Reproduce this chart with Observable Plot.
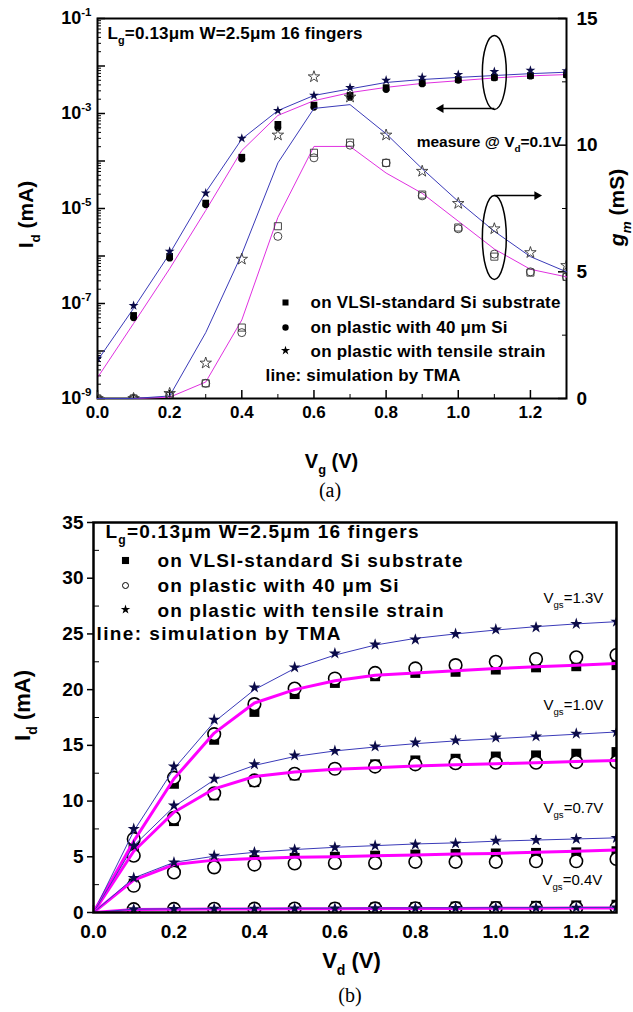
<!DOCTYPE html>
<html><head><meta charset="utf-8">
<script src="https://cdn.jsdelivr.net/npm/d3@7"></script>
<script src="https://cdn.jsdelivr.net/npm/@observablehq/plot@0.6"></script>
<style>
body{margin:0;background:#fff;}
#wrap{position:relative;width:633px;height:1012px;overflow:hidden;background:#fff;}
.layer{position:absolute;left:0;}
.cap{position:absolute;left:0;text-align:center;font-family:'Liberation Serif','Times New Roman',serif;font-size:20px;line-height:20px;}
</style></head><body>
<div id="wrap">
  <div class="layer" id="a1" style="top:0"></div>
  <div class="layer" id="a2" style="top:0"></div>
  <div class="cap" style="top:480px;width:660px">(a)</div>
  <div class="layer" id="b1" style="top:500px"></div>
  <div class="cap" style="top:985px;width:700px">(b)</div>
</div>
<script>
// ---------- Panel (a): Id–Vg (log) and gm–Vg, Vd = 0.1 V ----------
const vg = [0, 0.1, 0.2, 0.3, 0.4, 0.5, 0.6, 0.7, 0.8, 0.9, 1.0, 1.1, 1.2, 1.3];
const idSi      = [null, 5.6e-8, 9.8e-7, 1.3e-5, 1.2e-4, 5.9e-4, 1.5e-3, 2.4e-3, 3.5e-3, 4.5e-3, 5.2e-3, 5.8e-3, 6.3e-3, 6.6e-3];
const idPlastic = [null, 5.0e-8, 9.0e-7, 1.2e-5, 1.1e-4, 5.0e-4, 1.35e-3, 2.2e-3, 3.2e-3, 4.2e-3, 5.0e-3, 5.6e-3, 6.1e-3, 6.4e-3];
const idStrain  = [7e-9, 9e-8, 1.25e-6, 2.1e-5, 3.0e-4, 1.15e-3, 2.4e-3, 3.5e-3, 5.0e-3, 5.8e-3, 6.6e-3, 7.6e-3, 8.1e-3, 7.9e-3];
const simIdSi     = [2.75e-9, 3.8e-8, 5.4e-7, 9.1e-6, 1.66e-4, 9.1e-4, 1.86e-3, 2.75e-3, 3.55e-3, 4.3e-3, 4.9e-3, 5.6e-3, 6.2e-3, 6.6e-3];
const simIdStrain = [6.3e-9, 7.9e-8, 1.12e-6, 2.2e-5, 2.9e-4, 1.15e-3, 2.4e-3, 3.3e-3, 4.5e-3, 5.2e-3, 5.75e-3, 6.3e-3, 6.9e-3, 7.4e-3];
const gmSi      = [0, 0, 0.1, 0.6, 2.8, 6.8, 9.7, 10.1, 9.3, 8.05, 6.75, 5.6, 4.97, 4.8];
const gmPlastic = [0, 0, 0.1, 0.6, 2.6, 6.4, 9.5, 10.0, 9.3, 8.0, 6.7, 5.7, 5.0, 4.8];
const gmStrain  = [0, 0, 0.2, 1.4, 5.5, 10.4, 12.7, 11.9, 10.4, 8.97, 7.7, 6.7, 5.76, 5.25];
const simGmSi     = [0, 0, 0.05, 0.65, 3.1, 7.15, 9.95, 9.95, 8.9, 8.1, 7.0, 5.9, 5.1, 4.8];
const simGmStrain = [0, 0, 0.1, 2.6, 5.7, 9.3, 11.45, 11.6, 10.45, 9.07, 7.78, 6.6, 5.6, 5.0];
const vgTicks = [0, 0.2, 0.4, 0.6, 0.8, 1.0, 1.2];
const vgMinor = [0.1, 0.3, 0.5, 0.7, 0.9, 1.1];
const idMajor = [1e-9, 1e-8, 1e-7, 1e-6, 1e-5, 1e-4, 1e-3, 1e-2, 1e-1];
const idLabels = [1e-9, 1e-7, 1e-5, 1e-3, 1e-1];
const gmTicks = [0, 5, 10, 15];
const gmMinor = [2.5, 7.5, 12.5];

// ---------- Panel (b): Id–Vd ----------
const vd = [0, 0.1, 0.2, 0.3, 0.4, 0.5, 0.6, 0.7, 0.8, 0.9, 1.0, 1.1, 1.2, 1.3];
const vdMeas = [0.1, 0.2, 0.3, 0.4, 0.5, 0.6, 0.7, 0.8, 0.9, 1.0, 1.1, 1.2, 1.3];
// Vgs = 1.3 V
const sq13   = [6.0, 11.55, 15.5, 18.0, 19.6, 20.6, 21.2, 21.5, 21.6, 21.8, 22.0, 22.1, 22.2];
const circ13 = [6.6, 12.1, 16.0, 18.7, 20.1, 21.0, 21.5, 21.9, 22.2, 22.5, 22.75, 22.9, 23.1];
const star13 = [7.5, 13.1, 17.3, 20.2, 22.0, 23.25, 24.05, 24.5, 25.0, 25.4, 25.6, 25.9, 26.1];
const simP13 = [0, 6.4, 12.0, 16.1, 18.8, 20.0, 20.8, 21.3, 21.5, 21.7, 21.9, 22.05, 22.2, 22.35];
const simB13 = [0, 7.3, 12.9, 17.1, 20.0, 21.9, 23.1, 24.0, 24.6, 25.0, 25.35, 25.65, 25.9, 26.1];
// Vgs = 1.0 V
const sq10   = [5.6, 8.2, 10.5, 11.7, 12.3, 12.9, 13.3, 13.65, 13.8, 14.0, 14.1, 14.25, 14.4];
const circ10 = [5.1, 8.5, 10.7, 11.85, 12.45, 12.9, 13.1, 13.3, 13.4, 13.45, 13.45, 13.5, 13.5];
const star10 = [6.0, 9.6, 12.0, 13.3, 14.1, 14.5, 14.9, 15.25, 15.45, 15.7, 15.8, 16.05, 16.2];
const simP10 = [0, 5.5, 9.0, 11.1, 12.2, 12.6, 12.85, 13.0, 13.15, 13.25, 13.35, 13.45, 13.55, 13.65];
const simB10 = [0, 6.0, 9.5, 11.9, 13.2, 14.0, 14.5, 14.85, 15.15, 15.4, 15.6, 15.8, 16.0, 16.2];
// Vgs = 0.7 V
const sq07   = [2.6, 3.9, 4.4, 4.7, 4.9, 5.0, 5.1, 5.2, 5.25, 5.3, 5.35, 5.4, 5.5];
const circ07 = [2.4, 3.6, 4.05, 4.3, 4.4, 4.45, 4.45, 4.55, 4.55, 4.55, 4.6, 4.6, 4.8];
const star07 = [3.1, 4.5, 5.1, 5.4, 5.65, 5.85, 6.0, 6.1, 6.2, 6.45, 6.5, 6.6, 6.7];
const simP07 = [0, 2.9, 4.3, 4.7, 4.85, 4.95, 5.0, 5.1, 5.15, 5.25, 5.3, 5.4, 5.5, 5.6];
const simB07 = [0, 3.1, 4.5, 5.05, 5.4, 5.65, 5.85, 6.0, 6.15, 6.25, 6.4, 6.5, 6.6, 6.7];
// Vgs = 0.4 V
const sq04   = [0.3, 0.33, 0.35, 0.38, 0.4, 0.43, 0.46, 0.5, 0.53, 0.56, 0.6, 0.64, 0.7];
const circ04 = [0.3, 0.32, 0.33, 0.34, 0.35, 0.36, 0.37, 0.38, 0.39, 0.4, 0.41, 0.42, 0.43];
const star04 = [0.3, 0.32, 0.33, 0.35, 0.36, 0.37, 0.38, 0.39, 0.4, 0.42, 0.43, 0.44, 0.45];
const simP04 = [0, 0.27, 0.3, 0.31, 0.32, 0.33, 0.34, 0.35, 0.36, 0.37, 0.38, 0.39, 0.4, 0.41];
const simB04 = [0, 0.3, 0.33, 0.35, 0.37, 0.38, 0.39, 0.4, 0.41, 0.42, 0.43, 0.44, 0.45, 0.46];
const vdTicks = [0, 0.2, 0.4, 0.6, 0.8, 1.0, 1.2];
const vdMinor = [0.1, 0.3, 0.5, 0.7, 0.9, 1.1];
const idTicksB = [0, 5, 10, 15, 20, 25, 30, 35];
const idMinorB = [2.5, 7.5, 12.5, 17.5, 22.5, 27.5, 32.5];
const vgsLabels = ["1.3", "1.0", "0.7", "0.4"];

// ---------- styling ----------
const FONT = "'Liberation Sans', Arial, Helvetica, sans-serif";
const BLUE = "#3a3ab8", MAG = "#e030e0", MAGB = "#ff00ff", NAVY = "#0b0b48";
const W = 633;
const pts = (xs, ys) => ys.map((y, i) => ({x: xs[i], y})).filter(d => d.y != null);
const idMinor = idMajor.slice(0, -1).flatMap(m => [2, 3, 4, 5, 6, 7, 8, 9].map(k => k * m));

function noteMaker(m, offY = 0) {
  return (str, x, y, o = {}) => {
    const {fit, ...rest} = o;
    return Plot.text([str], {
      text: d => d, frameAnchor: "top-left", dx: x - m.l, dy: y - offY - m.t,
      textAnchor: "start", lineAnchor: "middle", fill: "black", fontWeight: "bold",
      ariaDescription: fit ? `fit${fit}` : "note", ...rest
    });
  };
}
function mkMaker(m, offY = 0) {
  return (x, y, o) => Plot.dot([0], {frameAnchor: "top-left", dx: x - m.l, dy: y - offY - m.t, ...o});
}
const ellipse = (rx, ry) => ({draw(c) {
  const k = 0.5523;
  c.moveTo(rx, 0);
  c.bezierCurveTo(rx, ry * k, rx * k, ry, 0, ry);
  c.bezierCurveTo(-rx * k, ry, -rx, ry * k, -rx, 0);
  c.bezierCurveTo(-rx, -ry * k, -rx * k, -ry, 0, -ry);
  c.bezierCurveTo(rx * k, -ry, rx, -ry * k, rx, 0);
  c.closePath();
}});

// rich text: _{sub} ^{sup} %{italic} &{italic sub}; fit widths from aria-description
function rich(root) {
  root.querySelectorAll("text").forEach(t => {
    const s = t.textContent;
    if (!/[_^%&]\{/.test(s)) return;
    const fs = parseFloat(getComputedStyle(t).fontSize) || 16;
    while (t.firstChild) t.removeChild(t.firstChild);
    const re = /([_^%&])\{([^}]*)\}/g;
    let last = 0, m, shift = 0;
    const add = (str, size, dy, ital) => {
      const ts = document.createElementNS("http://www.w3.org/2000/svg", "tspan");
      ts.textContent = str;
      if (size) ts.setAttribute("font-size", size);
      if (dy) ts.setAttribute("dy", dy);
      if (ital) ts.setAttribute("font-style", "italic");
      t.appendChild(ts);
    };
    while ((m = re.exec(s))) {
      if (m.index > last) { add(s.slice(last, m.index), null, -shift, false); shift = 0; }
      const code = m[1];
      if (code === "%") { add(m[2], null, -shift, true); shift = 0; }
      else {
        const d = (code === "_" || code === "&") ? 0.32 * fs : -0.45 * fs;
        add(m[2], 0.64 * fs, d - shift, code === "&");
        shift = d;
      }
      last = re.lastIndex;
    }
    if (last < s.length) add(s.slice(last), null, -shift, false);
  });
  root.querySelectorAll('g[aria-description^="fit"]').forEach(g => {
    const w = +g.getAttribute("aria-description").slice(3);
    g.querySelectorAll("text").forEach(t => {
      t.setAttribute("textLength", w);
      t.setAttribute("lengthAdjust", "spacing");
    });
  });
}

// ---------- Panel (a) layer 1: Id (log, left) ----------
const A = {h: 480, t: 18, b: 82, l: 97, r: 67};
const aw = W - A.l - A.r, ah = A.h - A.t - A.b;
const noteA = noteMaker(A), mkA = mkMaker(A);

const plotA1 = Plot.plot({
  width: W, height: A.h, marginTop: A.t, marginBottom: A.b, marginLeft: A.l, marginRight: A.r,
  style: {fontFamily: FONT, background: "transparent", overflow: "visible"},
  x: {domain: [0, 1.3], label: null},
  y: {type: "log", domain: [1e-9, 1e-1], label: null},
  marks: [
    Plot.tickY(idMinor, {y: d => d, insetRight: aw - 4, stroke: "black"}),
    Plot.tickY(idMajor, {y: d => d, insetRight: aw - 8, stroke: "black", strokeWidth: 1.5}),
    Plot.tickX(vgMinor, {x: d => d, insetTop: ah - 4, stroke: "black"}),
    Plot.tickX(vgTicks, {x: d => d, insetTop: ah - 8, stroke: "black", strokeWidth: 1.5}),
    Plot.axisY(idLabels, {tickSize: 0, tickPadding: 6, tickFormat: d => `10^{${Math.round(Math.log10(d))}}`, fontSize: 18, fontWeight: "bold", label: null}),
    Plot.axisX(vgTicks, {tickSize: 0, tickPadding: 7, tickFormat: d3.format(".1f"), fontSize: 17, fontWeight: "bold", label: null}),
    Plot.line(pts(vg, simIdSi), {x: "x", y: "y", stroke: MAG, strokeWidth: 1}),
    Plot.line(pts(vg, simIdStrain), {x: "x", y: "y", stroke: BLUE, strokeWidth: 1}),
    Plot.dot(pts(vg, idSi), {x: "x", y: "y", symbol: "square", fill: "black", r: 3.8, clip: true}),
    Plot.dot(pts(vg, idPlastic), {x: "x", y: "y", symbol: "circle", fill: "black", r: 3.4, clip: true}),
    Plot.dot(pts(vg, idStrain), {x: "x", y: "y", symbol: "star", fill: NAVY, r: 3.1, clip: true}),
    Plot.frame({stroke: "black", strokeWidth: 2}),
    noteA("L_{g}=0.13μm W=2.5μm 16 fingers", 107, 33, {fontSize: 17, fit: 255}),
    noteA("measure @ V_{d}=0.1V", 561, 142, {fontSize: 15.5, textAnchor: "end"}),
    mkA(285, 302, {symbol: "square", fill: "black", r: 3.4}),
    mkA(285, 327, {symbol: "circle", fill: "black", r: 3.2}),
    mkA(285, 350, {symbol: "star", fill: "black", r: 2.9}),
    noteA("on VLSI-standard Si substrate", 310, 302, {fontSize: 17, fit: 250}),
    noteA("on plastic with 40 μm Si", 310, 327, {fontSize: 17, fit: 197}),
    noteA("on plastic with tensile strain", 310, 351, {fontSize: 17, fit: 235}),
    noteA("line: simulation by TMA", 265, 375, {fontSize: 17, fit: 195}),
    noteA("V_{g} (V)", 331, 461, {fontSize: 20, textAnchor: "middle"}),
    noteA("I_{d} (mA)", 26, 214, {fontSize: 21, textAnchor: "middle", rotate: -90})
  ]
});
document.getElementById("a1").appendChild(plotA1);
rich(plotA1);

// ---------- Panel (a) layer 2: gm (linear, right) ----------
const plotA2 = Plot.plot({
  width: W, height: A.h, marginTop: A.t, marginBottom: A.b, marginLeft: A.l, marginRight: A.r,
  style: {fontFamily: FONT, background: "transparent", overflow: "visible"},
  x: {domain: [0, 1.3], axis: null},
  y: {domain: [0, 15], label: null},
  marks: [
    Plot.tickY(gmMinor, {y: d => d, insetLeft: aw - 4, stroke: "black"}),
    Plot.tickY(gmTicks, {y: d => d, insetLeft: aw - 8, stroke: "black", strokeWidth: 1.5}),
    Plot.axisY(gmTicks, {anchor: "right", tickSize: 0, tickPadding: 10, fontSize: 19, fontWeight: "bold", label: null}),
    Plot.line(pts(vg, simGmSi), {x: "x", y: "y", stroke: MAG, strokeWidth: 1}),
    Plot.line(pts(vg, simGmStrain), {x: "x", y: "y", stroke: BLUE, strokeWidth: 1}),
    Plot.dot(pts(vg, gmSi), {x: "x", y: "y", symbol: "square", fill: "none", stroke: "#333", strokeWidth: 0.9, r: 4, clip: true}),
    Plot.dot(pts(vg, gmPlastic), {x: "x", y: "y", symbol: "circle", fill: "none", stroke: "#333", strokeWidth: 0.9, r: 4, clip: true}),
    Plot.dot(pts(vg, gmStrain), {x: "x", y: "y", symbol: "star", fill: "none", stroke: "#333", strokeWidth: 0.9, r: 3.6, clip: true}),
    // annotations: ellipses with arrows pointing to the relevant axis
    Plot.dot([{x: 1.1, y: 12.87}], {x: "x", y: "y", symbol: ellipse(12, 37), fill: "none", stroke: "black", strokeWidth: 1.5}),
    Plot.dot([{x: 1.1, y: 6.36}], {x: "x", y: "y", symbol: ellipse(12, 42), fill: "none", stroke: "black", strokeWidth: 1.5}),
    Plot.link([{x1: 1.1, y1: 11.45, x2: 0.955, y2: 11.45}], {x1: "x1", y1: "y1", x2: "x2", y2: "y2", stroke: "black", strokeWidth: 1.5}),
    Plot.dot([{x: 0.952, y: 11.45}], {x: "x", y: "y", symbol: "triangle", rotate: -90, r: 3.3, fill: "black"}),
    Plot.link([{x1: 1.1, y1: 8.01, x2: 1.215, y2: 8.01}], {x1: "x1", y1: "y1", x2: "x2", y2: "y2", stroke: "black", strokeWidth: 1.5}),
    Plot.dot([{x: 1.218, y: 8.01}], {x: "x", y: "y", symbol: "triangle", rotate: 90, r: 3.3, fill: "black"}),
    noteA("%{g}&{m} (mS)", 617, 207, {fontSize: 21, textAnchor: "middle", rotate: -90})
  ]
});
document.getElementById("a2").appendChild(plotA2);
rich(plotA2);

// ---------- Panel (b) ----------
const B = {top: 500, h: 480, t: 22, b: 68, l: 93, r: 17};
const bw = W - B.l - B.r, bh = B.h - B.t - B.b;
const noteB = noteMaker(B, B.top), mkB = mkMaker(B, B.top);
const groups = [
  {sq: sq13, circ: circ13, star: star13, p: simP13, b: simB13},
  {sq: sq10, circ: circ10, star: star10, p: simP10, b: simB10},
  {sq: sq07, circ: circ07, star: star07, p: simP07, b: simB07},
  {sq: sq04, circ: circ04, star: star04, p: simP04, b: simB04}
];
const marksB = [
  Plot.tickY(idMinorB, {y: d => d, insetRight: bw - 6, stroke: "black"}),
  Plot.tickX(vdMinor, {x: d => d, insetTop: bh - 4, stroke: "black"}),
  Plot.tickX(vdTicks, {x: d => d, insetTop: bh - 7, stroke: "black", strokeWidth: 1.5}),
  Plot.axisY(idTicksB, {tickSize: 6, tickPadding: 4, strokeWidth: 1.5, fontSize: 19, fontWeight: "bold", label: null}),
  Plot.axisX(vdTicks, {tickSize: 0, tickPadding: 12, tickFormat: d3.format(".1f"), fontSize: 19, fontWeight: "bold", label: null})
];
for (const g of groups) {
  marksB.push(
    Plot.dot(pts(vdMeas, g.sq), {x: "x", y: "y", symbol: "square", fill: "black", r: 5.6, clip: true}),
    Plot.dot(pts(vdMeas, g.circ), {x: "x", y: "y", symbol: "circle", fill: "white", stroke: "black", strokeWidth: 1.6, r: 6.3, clip: true})
  );
}
for (const g of groups) {
  marksB.push(
    Plot.line(pts(vd, g.p), {x: "x", y: "y", stroke: MAGB, strokeWidth: 3, clip: true}),
    Plot.line(pts(vd, g.b), {x: "x", y: "y", stroke: BLUE, strokeWidth: 1, clip: true})
  );
}
for (const g of groups) {
  marksB.push(Plot.dot(pts(vdMeas, g.star), {x: "x", y: "y", symbol: "star", fill: NAVY, r: 3.8, clip: true}));
}
const vgsY = [598, 705, 808, 880];
const vgsX = [543, 543, 543, 542];
marksB.push(
  Plot.frame({stroke: "black", strokeWidth: 2.5}),
  noteB("L_{g}=0.13μm W=2.5μm 16 fingers", 105, 531, {fontSize: 19, fit: 313}),
  mkB(125, 560, {symbol: "square", fill: "black", r: 4}),
  mkB(125, 585, {symbol: "circle", fill: "white", stroke: "black", strokeWidth: 1, r: 3}),
  mkB(125, 609, {symbol: "star", fill: "black", r: 3}),
  noteB("on VLSI-standard Si substrate", 157, 560, {fontSize: 19, fit: 305}),
  noteB("on plastic with 40 μm Si", 157, 585, {fontSize: 19, fit: 241}),
  noteB("on plastic with tensile strain", 157, 610, {fontSize: 19, fit: 286}),
  noteB("line: simulation by TMA", 96, 633, {fontSize: 19, fit: 244}),
  ...vgsLabels.map((v, i) => noteB(`V_{gs}=${v}V`, vgsX[i], vgsY[i], {fontSize: 15, fontWeight: "normal"})),
  noteB("V_{d} (V)", 351, 960, {fontSize: 22, textAnchor: "middle"}),
  noteB("I_{d} (mA)", 22, 705, {fontSize: 22, textAnchor: "middle", rotate: -90})
);
const plotB = Plot.plot({
  width: W, height: B.h, marginTop: B.t, marginBottom: B.b, marginLeft: B.l, marginRight: B.r,
  style: {fontFamily: FONT, background: "transparent", overflow: "visible"},
  x: {domain: [0, 1.3], label: null},
  y: {domain: [0, 35], label: null},
  marks: marksB
});
document.getElementById("b1").appendChild(plotB);
rich(plotB);
</script>
</body></html>
